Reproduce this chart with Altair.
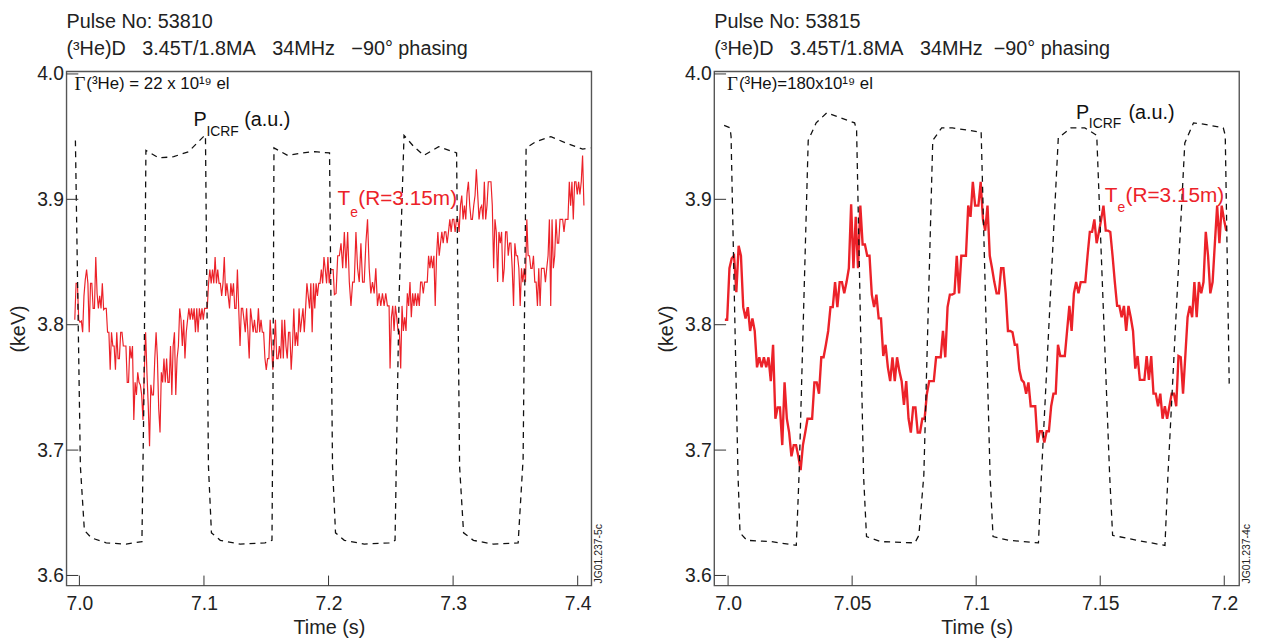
import altair as alt
import numpy as np
import pandas as pd

# ---------------- data : pulse 53810 (left) ----------------
L_TE_SEGMENTS = [(6.9963, 7.2037), (7.2047, 7.2486), (7.2494, 7.4050)]
L_TE_1 = [3.804,3.833,3.833,3.804,3.802,3.803,3.794,3.823,3.836,3.844,3.833,3.794,3.833,3.833,3.813,3.813,3.854,3.825,3.813,3.823,
          3.813,3.833,3.812,3.813,3.813,3.794,3.794,3.764,3.794,3.783,3.783,3.764,3.794,3.773,3.773,3.794,3.794,3.783,3.783,3.783,
          3.754,3.754,3.783,3.773,3.783,3.724,3.754,3.744,3.762,3.754,3.752,3.744,3.724,3.762,3.794,3.762,3.736,3.703,3.752,3.744,
          3.744,3.773,3.794,3.773,3.733,3.714,3.762,3.754,3.773,3.754,3.773,3.754,3.754,3.783,3.744,3.783,3.794,3.744,3.773,3.783,
          3.813,3.804,3.783,3.804,3.773,3.794,3.804,3.813,3.804,3.813,3.804,3.813,3.794,3.813,3.794,3.813,3.804,3.813,3.804,3.813,
          3.813,3.813,3.833,3.844,3.833,3.844,3.833,3.854,3.833,3.844,3.833,3.833,3.823,3.833,3.854,3.823,3.833,3.823,3.813,3.833,
          3.823,3.833,3.813,3.813,3.844,3.813,3.783,3.813,3.813,3.804,3.794,3.813,3.794,3.773,3.813,3.804,3.794,3.804,3.794,3.794,
          3.813,3.794,3.804,3.794,3.794,3.773,3.764,3.773,3.773,3.804,3.783,3.764,3.783,3.804,3.773,3.773,3.783,3.773,3.804,3.773,
          3.804,3.783,3.773,3.794,3.794,3.764,3.783,3.813,3.783,3.794,3.783,3.813,3.794,3.804,3.813,3.794,3.813,3.833,3.823,3.813,
          3.833,3.794,3.833,3.813,3.833,3.823,3.833,3.833,3.844,3.833,3.854,3.844,3.833,3.854,3.833,3.844,3.844,3.844]
L_TE_2 = [3.824,3.825,3.855,3.855,3.865,3.845,3.874,3.845,3.874,3.834,3.815,3.834,3.834,3.874,3.845,3.834,3.865,3.834,3.834,3.865,
          3.884,3.845,3.825,3.834,3.825,3.845,3.815,3.825,3.815,3.825,3.815,3.825,3.815,3.815]
L_TE_3 = [3.765,3.806,3.815,3.795,3.815,3.806,3.795,3.795,3.765,3.815,3.795,3.806,3.795,3.825,3.815,3.834,3.806,3.825,3.815,3.825,
          3.815,3.825,3.815,3.834,3.834,3.825,3.834,3.834,3.834,3.855,3.845,3.855,3.845,3.855,3.815,3.855,3.874,3.855,3.865,3.874,
          3.865,3.874,3.874,3.865,3.874,3.884,3.874,3.884,3.884,3.874,3.884,3.884,3.874,3.895,3.903,3.884,3.895,3.884,3.905,3.914,
          3.895,3.884,3.884,3.895,3.903,3.924,3.904,3.884,3.893,3.895,3.884,3.914,3.884,3.895,3.914,3.914,3.914,3.895,3.845,3.884,
          3.874,3.834,3.874,3.865,3.874,3.834,3.845,3.874,3.874,3.855,3.865,3.865,3.845,3.815,3.865,3.855,3.855,3.845,3.815,3.845,
          3.834,3.845,3.834,3.884,3.855,3.855,3.845,3.845,3.855,3.834,3.834,3.815,3.845,3.815,3.845,3.845,3.845,3.834,3.845,3.855,
          3.884,3.815,3.884,3.845,3.855,3.884,3.865,3.865,3.884,3.884,3.884,3.874,3.884,3.884,3.884,3.914,3.895,3.914,3.884,3.914,
          3.914,3.904,3.914,3.904,3.914,3.935,3.895]
L_P_T = [6.9968,7.0008,7.0040,7.0096,7.0215,7.0375,7.0502,7.0518,7.0534,7.0637,7.0757,7.0876,7.0996,7.1012,7.1036,7.1060,7.1131,
         7.1291,7.1490,7.1546,7.1554,7.1562,7.1673,7.1785,7.1888,7.2008,7.2032,7.2056,7.2127,7.2287,7.2486,7.2534,7.2566,7.2606,
         7.2685,7.2765,7.2884,7.3028,7.3052,7.3084,7.3163,7.3323,7.3522,7.3562,7.3586,7.3665,7.3785,7.3904,7.4040,7.4104]
L_P_V = [3.947,3.687,3.636,3.630,3.626,3.625,3.627,3.743,3.939,3.933,3.934,3.938,3.950,3.951,3.687,3.634,3.628,3.625,3.626,3.628,
         3.743,3.941,3.935,3.937,3.938,3.937,3.687,3.634,3.628,3.625,3.626,3.628,3.821,3.951,3.942,3.935,3.942,3.937,3.687,3.634,
         3.628,3.625,3.626,3.693,3.941,3.946,3.950,3.945,3.940,3.941]

# ---------------- data : pulse 53815 (right) ----------------
R_TE_SEGMENTS = [(6.9987, 7.1005), (7.1009, 7.2008)]
R_TE_1 = [3.804,3.804,3.845,3.853,3.855,3.826,3.863,3.855,3.814,3.805,3.814,3.795,3.805,3.795,3.766,3.774,3.766,3.774,3.766,3.774,
          3.755,3.784,3.725,3.734,3.734,3.704,3.754,3.725,3.714,3.695,3.704,3.704,3.695,3.684,3.704,3.714,3.725,3.725,3.725,3.754,
          3.754,3.745,3.774,3.774,3.784,3.795,3.814,3.814,3.834,3.814,3.834,3.834,3.825,3.834,3.845,3.896,3.845,3.886,3.845,3.895,
          3.864,3.864,3.855,3.855,3.824,3.814,3.824,3.805,3.805,3.775,3.784,3.766,3.755,3.774,3.755,3.774,3.763,3.755,3.736,3.755,
          3.725,3.714,3.734,3.734,3.714,3.714,3.725,3.725,3.745,3.755,3.755,3.755,3.774,3.774,3.774,3.795,3.774,3.814,3.824,3.824,
          3.825,3.855,3.825,3.855,3.855,3.855,3.895,3.886,3.914,3.895,3.895]
R_TE_2 = [3.895,3.914,3.884,3.875,3.895,3.855,3.845,3.834,3.825,3.825,3.845,3.845,3.825,3.795,3.795,3.794,3.784,3.784,3.764,3.756,
          3.754,3.745,3.754,3.735,3.735,3.735,3.706,3.715,3.715,3.706,3.715,3.715,3.735,3.745,3.745,3.784,3.775,3.775,3.775,3.795,
          3.815,3.795,3.825,3.834,3.825,3.834,3.834,3.834,3.855,3.874,3.874,3.884,3.865,3.874,3.884,3.895,3.875,3.875,3.874,3.855,
          3.834,3.815,3.815,3.806,3.815,3.795,3.815,3.806,3.795,3.765,3.775,3.756,3.756,3.756,3.775,3.756,3.775,3.745,3.745,3.735,
          3.745,3.725,3.735,3.725,3.735,3.745,3.745,3.735,3.775,3.774,3.745,3.775,3.806,3.815,3.806,3.834,3.806,3.834,3.825,3.834,
          3.874,3.855,3.825,3.834,3.865,3.895,3.865,3.895,3.884,3.875]
R_P_T = [6.9984,7.0008,7.0012,7.0040,7.0048,7.0076,7.0175,7.0275,7.0287,7.0323,7.0355,7.0398,7.0454,7.0510,7.0518,7.0546,7.0558,
         7.0614,7.0753,7.0769,7.0789,7.0825,7.0861,7.0904,7.1004,7.1020,7.1056,7.1068,7.1131,7.1251,7.1263,7.1331,7.1382,7.1438,
         7.1486,7.1538,7.1550,7.1649,7.1761,7.1773,7.1841,7.1876,7.1916,7.1996,7.2004,7.2020]
R_P_V = [3.959,3.957,3.950,3.680,3.634,3.628,3.627,3.624,3.685,3.947,3.961,3.969,3.965,3.961,3.955,3.680,3.631,3.627,3.626,3.632,
         3.680,3.947,3.957,3.957,3.954,3.954,3.680,3.631,3.628,3.626,3.680,3.949,3.957,3.957,3.951,3.680,3.632,3.628,3.624,3.680,
         3.945,3.961,3.960,3.957,3.951,3.753]

Y_TICKS = [3.6, 3.7, 3.8, 3.9, 4.0]
L_X_TICKS = [7.0, 7.1, 7.2, 7.3, 7.4]
R_X_TICKS = [7.0, 7.05, 7.1, 7.15, 7.2]

NB = "\u00a0"
G2 = NB * 3
G1 = NB * 2
L_TITLE = ["Pulse No: 53810", f"(³He)D{G2}3.45T/1.8MA{G2}34MHz{G2}−90° phasing"]
R_TITLE = ["Pulse No: 53815", f"(³He)D{G2}3.45T/1.8MA{G2}34MHz{G1}−90° phasing"]

# annotation anchors (t, v)
L_ANN = dict(gamma=(6.9960, 3.992, "(³He) = 22 x 10¹⁹ el"),
             P=(7.0916, 3.963), ICRF=(7.1020, 3.954), au=(7.1323, 3.963),
             T=(7.2072, 3.900), e=(7.2175, 3.889), R=(7.2239, 3.900))
R_ANN = dict(gamma=(6.9996, 3.992, "(³He)=180x10¹⁹ el"),
             P=(7.1402, 3.969), ICRF=(7.1454, 3.960), au=(7.1614, 3.969),
             T=(7.1518, 3.903), e=(7.1570, 3.893), R=(7.1602, 3.903))

W, H = 530, 519
YDOM = [3.592, 4.002]
RED = "#ec2229"
FONT = "Liberation Sans"


def te_frame(segments, parts):
    frames = []
    for (t0, t1), vals in zip(segments, parts):
        frames.append(pd.DataFrame({"t": np.linspace(t0, t1, len(vals)), "v": vals}))
    return pd.concat(frames, ignore_index=True)


def panel(te_df, p_df, xdom, xticks, label_expr, title, ann, te_width, tag):
    xs = alt.Scale(domain=xdom, nice=False, zero=False)
    ys = alt.Scale(domain=YDOM, nice=False, zero=False)
    xax = alt.Axis(values=xticks, labelExpr=label_expr, ticks=False, domain=False, grid=False,
                   title="Time (s)", labelFontSize=19.5, titleFontSize=20, titleFontWeight="normal",
                   labelPadding=9, titlePadding=5, labelColor="#222", titleColor="#222", labelFlush=False)
    yax = alt.Axis(values=Y_TICKS, format=".1f", ticks=False, domain=False, grid=False,
                   title="(keV)", labelFontSize=19.5, titleFontSize=20, titleFontWeight="normal",
                   labelPadding=3, titlePadding=8, labelColor="#222", titleColor="#222")
    X = alt.X("t:Q", scale=xs, axis=xax)
    Y = alt.Y("v:Q", scale=ys, axis=yax)

    te = alt.Chart(te_df).mark_line(color=RED, strokeWidth=te_width, clip=True).encode(x=X, y=Y)
    pw = alt.Chart(p_df).mark_line(color="#111", strokeWidth=1.3, strokeDash=[6, 5], clip=True).encode(x=X, y=Y)

    ytk = alt.Chart(pd.DataFrame({"v": Y_TICKS})).mark_rule(color="#333", strokeWidth=1).encode(
        y=Y, x=alt.value(0), x2=alt.value(12))
    xtk = alt.Chart(pd.DataFrame({"t": xticks})).mark_rule(color="#333", strokeWidth=1).encode(
        x=X, y=alt.value(H), y2=alt.value(H - 10))

    def txt(t, v, s, size, color="#111", font=FONT, dx=0):
        return alt.Chart(pd.DataFrame({"t": [t], "v": [v], "s": [s]})).mark_text(
            align="left", baseline="middle", fontSize=size, font=font, color=color, dx=dx
        ).encode(x=X, y=Y, text="s:N")

    g = ann["gamma"]
    texts = [
        txt(g[0], g[1], "Γ", 19, font="Liberation Serif"),
        txt(g[0], g[1], g[2], 17, dx=12),
        txt(*ann["P"], "P", 20),
        txt(*ann["ICRF"], "ICRF", 14),
        txt(*ann["au"], "(a.u.)", 20),
        txt(*ann["T"], "T", 21, color=RED),
        txt(*ann["e"], "e", 14, color=RED),
        txt(*ann["R"], "(R=3.15m)", 21, color=RED),
    ]
    tagm = alt.Chart(pd.DataFrame({"s": [tag]})).mark_text(
        align="left", baseline="middle", angle=270, fontSize=10.5, font=FONT, color="#222"
    ).encode(text="s:N", x=alt.value(W + 8), y=alt.value(H - 2))

    return alt.layer(te, pw, ytk, xtk, *texts, tagm).properties(
        width=W, height=H,
        title=alt.TitleParams(text=title, anchor="start", frame="group", fontSize=20, font=FONT,
                              fontWeight="normal", color="#222", lineHeight=27, offset=5),
    )


left = panel(te_frame(L_TE_SEGMENTS, [L_TE_1, L_TE_2, L_TE_3]),
             pd.DataFrame({"t": L_P_T, "v": L_P_V}),
             [6.9896, 7.411], L_X_TICKS, "format(datum.value, '.1f')",
             L_TITLE, L_ANN, 1.2, "JG01.237-5c")
right = panel(te_frame(R_TE_SEGMENTS, [R_TE_1, R_TE_2]),
              pd.DataFrame({"t": R_P_T, "v": R_P_V}),
              [6.9944, 7.206], R_X_TICKS,
              "datum.value == 7 ? '7.0' : format(datum.value, '.2~f')",
              R_TITLE, R_ANN, 2.4, "JG01.237-4c")

chart = alt.hconcat(left, right, spacing=50).properties(
    padding={"left": 0, "top": 0, "right": 0, "bottom": 0}
).configure(font=FONT).configure_view(
    stroke="#555", strokeWidth=1.4).configure_axis(labelFont=FONT, titleFont=FONT)

chart.save("out.html", embed_options={"renderer": "svg", "actions": False})
